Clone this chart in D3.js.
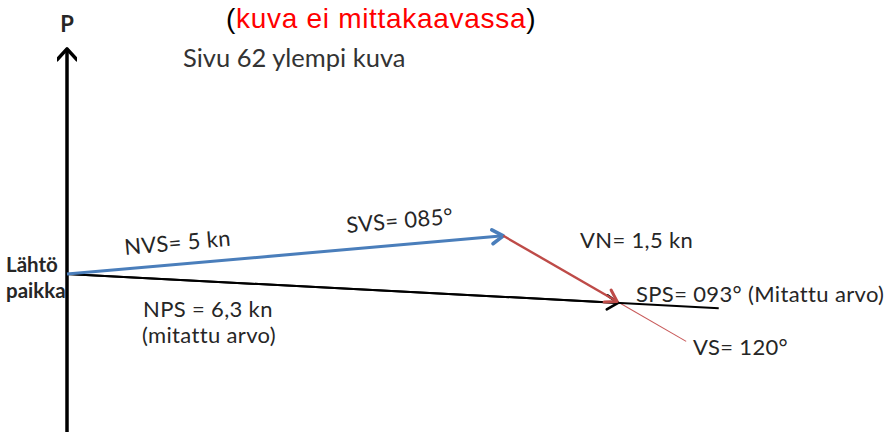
<!DOCTYPE html>
<html>
<head>
<meta charset="utf-8">
<script src="https://cdn.jsdelivr.net/npm/d3@7"></script>
<style>
  body { margin: 0; background: #fff; }
  text { font-family: Lato, "Open Sans", sans-serif; fill: #262626; }
</style>
</head>
<body>
<div id="chart-area"></div>
<script>
// vector triangle: vesi (NVS/SVS), virta (VN/VS), pohja (NPS/SPS)
const names    = ["NVS", "VN", "NPS"];
const speeds   = [5, 1.5, 6.3];      // kn
const bearings = [85, 120, 93];      // degrees
const drawnLen = [5, 2.41, 7.45];    // how far each line is drawn (kn), arrows sit at speed
const northAxis = [-1.85, 2.57];     // extent of the P (north) axis, kn

const svgWidth = 887;
const svgHeight = 432;
const svg = d3.select("#chart-area")
              .append("svg")
              .attr("width", svgWidth)
              .attr("height", svgHeight);

const pxPerKn = 87.6;
const origin = { x: 67, y: 274 };

const x = d3.scaleLinear()
            .domain([0, 1])
            .range([origin.x, origin.x + pxPerKn]);
const y = d3.scaleLinear()
            .domain([0, 1])
            .range([origin.y, origin.y - pxPerKn]);

const rad = d => d * Math.PI / 180;
const comp = (spd, brg) => [spd * Math.sin(rad(brg)), spd * Math.cos(rad(brg))];

// start points: NVS and NPS from origin, VN from tip of NVS
const nvs = comp(speeds[0], bearings[0]);
const starts = [[0, 0], nvs, [0, 0]];
const colors = ["#4a7ebb", "#be4b48", "#000"];
const widths = [3, 2.4, 2];

const defs = svg.append("defs");
colors.concat(["#000"]).forEach((c, i) => {
  defs.append("marker")
      .attr("id", "arr" + i)
      .attr("markerUnits", "userSpaceOnUse")
      .attr("viewBox", "-14 -10 16 20")
      .attr("refX", 0).attr("refY", 0)
      .attr("markerWidth", 16).attr("markerHeight", 20)
      .attr("orient", "auto")
      .append("path")
      .attr("d", i === 3 ? "M-11,-10 L0,0 L-11,10" : "M-11,-7 L0,0 L-11,7")
      .attr("fill", "none")
      .attr("stroke", c)
      .attr("stroke-width", i === 3 ? 3.5 : widths[i] + 0.6)
      .attr("stroke-linecap", "round")
      .attr("stroke-linejoin", "round");
});

// P axis
svg.append("line")
   .attr("x1", x(0)).attr("x2", x(0))
   .attr("y1", y(northAxis[0])).attr("y2", y(northAxis[1]))
   .attr("stroke", "#000")
   .attr("stroke-width", 3.5)
   .attr("marker-end", "url(#arr3)");

// thin continuation of the current line (VS)
const vnEnd = starts[1].map((s, k) => s + comp(speeds[1], bearings[1])[k]);
const vnFar = starts[1].map((s, k) => s + comp(drawnLen[1], bearings[1])[k]);
svg.append("line")
   .attr("x1", x(vnEnd[0])).attr("y1", y(vnEnd[1]))
   .attr("x2", x(vnFar[0])).attr("y2", y(vnFar[1]))
   .attr("stroke", "#c85a5a")
   .attr("stroke-width", 1.1);

// NPS line runs past the arrow
const npsFar = comp(drawnLen[2], bearings[2]);
svg.append("line")
   .attr("x1", x(0)).attr("y1", y(0))
   .attr("x2", x(npsFar[0])).attr("y2", y(npsFar[1]))
   .attr("stroke", "#000")
   .attr("stroke-width", widths[2]);

// vectors with arrowheads
const order = [2, 0, 1];
svg.selectAll("line.vec")
   .data(order)
   .enter()
   .append("line")
   .attr("class", "vec")
   .attr("x1", i => x(starts[i][0]))
   .attr("y1", i => y(starts[i][1]))
   .attr("x2", i => x(starts[i][0] + comp(speeds[i], bearings[i])[0]))
   .attr("y2", i => y(starts[i][1] + comp(speeds[i], bearings[i])[1]))
   .attr("stroke", i => colors[i])
   .attr("stroke-width", i => widths[i])
   .attr("marker-end", i => "url(#arr" + i + ")");

// texts
svg.append("text")
   .attr("x", x(0)).attr("y", 32)
   .attr("text-anchor", "middle")
   .style("font-family", "Lato, sans-serif")
   .style("font-weight", "bold")
   .style("font-size", "22px")
   .text("P");

const title = svg.append("text")
   .attr("x", 226).attr("y", 28)
   .style("font-family", "Liberation Sans, Arial, sans-serif")
   .style("font-size", "28px")
   .style("letter-spacing", "0.7px")
   .style("fill", "#000");
title.append("tspan").text("(");
title.append("tspan").style("fill", "#ff0000").text("kuva ei mittakaavassa");
title.append("tspan").text(")");

svg.append("text")
   .attr("x", 183).attr("y", 67)
   .style("font-size", "25.5px")
   .style("fill", "#333")
   .text("Sivu 62 ylempi kuva");

svg.selectAll("text.start")
   .data(["Lähtö", "paikka"])
   .enter()
   .append("text")
   .attr("class", "start")
   .attr("x", 6)
   .attr("y", (d, i) => 272 + i * 26)
   .style("font-weight", "bold")
   .style("font-size", "20.5px")
   .text(d => d);

const angle = -(90 - bearings[0]);
const plain = [
  { t: "NVS= 5 kn", x: 125, y: 255, r: angle },
  { t: "SVS= 085°", x: 347, y: 233, r: angle },
  { t: "VN= 1,5 kn", x: 580, y: 248, r: 0 },
  { t: "SPS= 093° (Mitattu arvo)", x: 636, y: 302, r: 0 },
  { t: "NPS = 6,3 kn", x: 143, y: 317, r: 0 },
  { t: "(mitattu arvo)", x: 142, y: 343, r: 0 },
  { t: "VS= 120°", x: 693, y: 355, r: 0 }
];
svg.selectAll("text.lbl")
   .data(plain)
   .enter()
   .append("text")
   .attr("class", "lbl")
   .attr("transform", d => `translate(${d.x},${d.y}) rotate(${d.r})`)
   .style("font-size", "22px")
   .style("letter-spacing", "0.35px")
   .text(d => d.t);
</script>
</body>
</html>
